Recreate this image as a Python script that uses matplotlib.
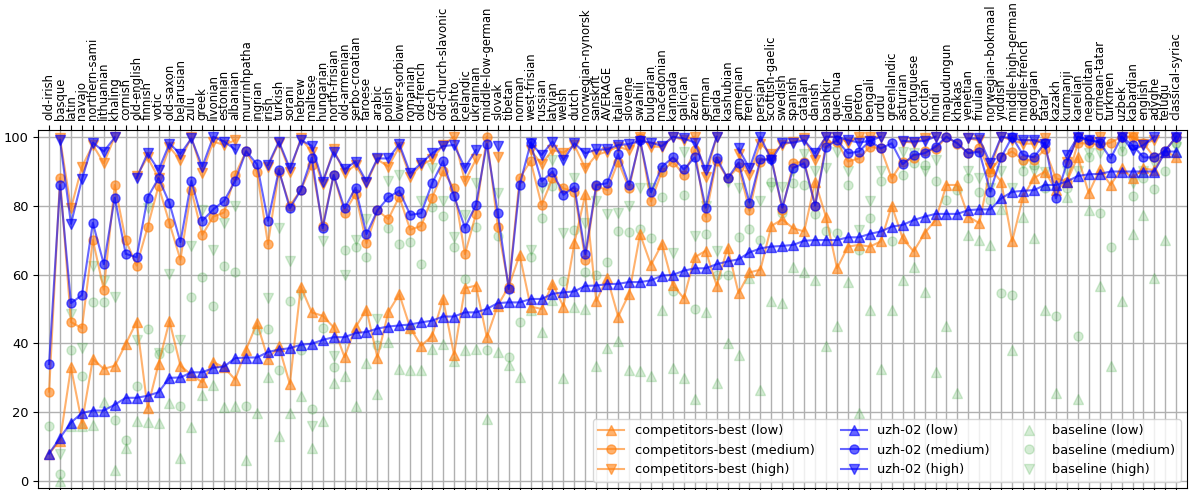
import numpy as np
import matplotlib
matplotlib.use("Agg")
import matplotlib.pyplot as plt

nan = np.nan

languages = [
    "old-irish", "basque", "latin", "navajo", "northern-sami", "lithuanian", "khaling", "cornish",
    "old-english", "finnish", "votic", "old-saxon", "belarusian", "zulu", "greek", "livonian",
    "estonian", "albanian", "murrinhpatha", "ingrian", "irish", "turkish", "sorani", "hebrew",
    "maltese", "hungarian", "north-frisian", "old-armenian", "serbo-croatian", "faroese", "arabic",
    "polish", "lower-sorbian", "romanian", "old-french", "czech", "old-church-slavonic", "pashto",
    "icelandic", "ukrainian", "middle-low-german", "slovak", "tibetan", "norman", "west-frisian",
    "russian", "latvian", "welsh", "dutch", "norwegian-nynorsk", "sanskrit", "AVERAGE", "italian",
    "slovene", "swahili", "bulgarian", "macedonian", "kannada", "galician", "azeri", "german",
    "haida", "kashubian", "armenian", "french", "persian", "scottish-gaelic", "swedish", "spanish",
    "catalan", "danish", "bashkir", "quechua", "ladin", "breton", "bengali", "urdu", "greenlandic",
    "asturian", "portuguese", "occitan", "hindi", "mapudungun", "khakas", "venetian", "friulian",
    "norwegian-bokmaal", "yiddish", "middle-high-german", "middle-french", "georgian", "tatar",
    "kazakh", "kurmanji", "karelian", "neapolitan", "crimean-tatar", "turkmen", "uzbek",
    "kabardian", "english", "adyghe", "telugu", "classical-syriac",
]

uzh_low = [
    8, 12.6, 17, 19.8, 20.5, 20.5, 22.2, 24.2, 24.2, 24.8, 25.8, 30, 30.1, 31.6, 31.6, 32.9,
    33.3, 35.7, 35.9, 35.9, 37.5, 38.2, 38.6, 39.6, 39.9, 41, 41.8, 41.8, 43, 43.3, 44.3,
    44.9, 45.2, 45.5, 46.1, 46.6, 47.8, 47.8, 49, 49, 50, 51.7, 51.9, 51.9, 52.9,
    52.9, 54.4, 54.8, 55.1, 56.7, 56.8, 57.2, 57.3,
    57.8, 57.8, 58.3, 59.7, 59.9, 61.1, 61.8, 61.8,
    63, 63.8, 64.4, 66.4, 67.6, 68.1, 68.3, 68.6,
    69.8, 70, 70, 70, 70.8, 70.8, 71.8, 72.5, 73.9,
    74.4, 75.8, 76.8, 77.6, 77.6, 77.6, 78.7, 78.9,
    78.9, 82.1, 84, 84.3, 84.5, 86, 86, 87, 88.6, 89.1, 89.2, 89.9, 89.9,
    89.9, 89.9, 89.9, 95.7, 95.7,
]
comp_low = [
    8, 11.8, 33, 17, 35.5, 32.6, 33.5, 39.8, 46.3, 21.3, 34, 46.5, 33.5, 30.9, 28.7, 34.6,
    33, 29.5, 38.2, 45.9, 35.5, 39.1, 28.2, 56.5, 49, 48, 44.7, 36, 44.7, 49.8, 35.9,
    49.1, 54.3, 44.5, 39.3, 42.2, 52.9, 36.7, 56, 56.8, 41.8, 51, 56.5, 65.7, 50.7,
    50, 57.3, 50.7, 69.1, 83.4, 52.2, 59.1, 47.8,
    54.4, 71.7, 62.8, 68.9, 57, 53.1, 65, 66.9,
    56.8, 67.8, 54.6, 60.6, 61.4, 74.1, 76, 73.4,
    72.5, 87, 76.6, 61.8, 68.1, 68.6, 68.1, 69.6, 80,
    70.5, 66.7, 72, 75.8, 86, 86, 76.8, 74.9,
    90.8, 87, 69.6, 82.6, 88, 89.9, 84.5, 87, 94.2, 83.6, 90.5, 86, 90.8,
    88, 90.8, 90.3, 95.7, 94.2,
]
uzh_med = [
    34, 86, 51.7, 54, 75, 63, 82.3, 66, 65, 82.3, 88, 80.7, 69.4, 87.2, 75.6, 78.9,
    81.4, 87.1, 95.8, 92, 75.6, 90.3, 79.2, 84.5, 93.9, 73.4, 88.9, 79.2, 85.2, 71.7, 78.6,
    82.4, 84.3, 77.3, 77.8, 86.5, 92.9, 82.8, 73.6, 80.2, 97.9, 77.8, 55.8, 86, 98.1,
    87, 89.9, 83.1, 85.5, 65.9, 86, 86.5, 95,
    86, 99, 83.9, 91.3, 94, 90.5, 94, 79.4,
    93.9, 87.9, 92.5, 80.9, 93.4, 93.4, 79.4, 91,
    92.3, 80, 97.1, 99, 95.2, 95.7, 98.8, 96.6, 98.1,
    92, 94.7, 95.2, 97.1, 100, 98.1, 95.2, 95.7,
    84.1, 94, 100, 94.7, 94, 98.3, 82.1, 92.3, 100, 99, 98.3, 93.7, 100,
    97.6, 94, 94, 96, 100,
]
comp_med = [
    26, 88, 46.2, 44.4, 70, 55.6, 86, 70, 62.6, 73.7, 85.7, 74.9, 64.3, 84.5, 71.5, 76.8,
    78, 88.9, 95.8, 89.9, 68.8, 89.9, 80, 84.5, 91.8, 74.1, 88.9, 78, 83.4, 69.1, 78.6,
    76.1, 82.6, 73, 74.1, 82.3, 90, 85, 65.9, 77.5, 100, 73.9, 56.5, 87.9, 93,
    80.2, 87.9, 85, 84.1, 64.3, 85.7, 84.5, 92.8,
    85, 99.5, 81.2, 89.9, 92.8, 88.9, 96.1, 76.8,
    93, 87.9, 91.3, 78.6, 92.8, 94, 78.7, 92.3,
    92.8, 80, 98.1, 98.6, 92.8, 93.7, 97.1, 96.6, 87.9,
    92.8, 93.7, 95.8, 96.3, 100, 97.9, 95.2, 96.6,
    89.9, 94.2, 95.7, 93.2, 93.2, 96.3, 87.9, 87, 98.1, 98.1, 97.6, 98.3, 100,
    100, 98.1, 94, 96, 100,
]
uzh_high = [
    nan, 99, 74.7, 87.6, 98.3, 95.7, 99.8, nan, 88, 95.2, 90.3, 98, 95, 99.5, 91.3, 100,
    98.6, 96.3, nan, nan, 91.8, 98.6, 90.8, 99, 97.4, 87, 95.5, 90.5, 92.8, 87, 93.7,
    93.7, 97.9, 89.4, 92.3, 95.2, 97.3, 97.6, 91, 96.1, nan, 97.3, nan, nan, 98.3,
    94.7, 98.6, 93.2, 98.1, 95.2, 96.3, 96.3, 97.6,
    97.9, 98.8, 98.3, 97.3, 100, 99.5, 98.3, 90.3,
    100, nan, 96.6, 90.8, 100, 93.2, 98.3, 98.3,
    99, 95.2, 100, 100, 99, 98.3, 98.8, 100, nan,
    98.8, 98.6, 98.8, 100, nan, nan, 99.5, 99.5,
    92.3, 100, 99.5, 99, 99, 98, nan, 94.7, 100, 99, 98.6, nan, 100,
    96.1, 97.6, 100, nan, 100,
]
comp_high = [
    nan, 99.5, 79.2, 91.3, 97.6, 92.3, 100, nan, 88.6, 94, 88, 97, 93.2, 99.8, 89.6, 98.6,
    97.6, 99, nan, nan, 91.3, 98.3, 89.9, 99.5, 95.7, 86.3, 96.3, 89.4, 91.8, 86.5, 93.4,
    91.3, 97.1, 88.4, 91.8, 93.4, 97.6, 100, 87.1, 93.4, nan, 94.2, nan, nan, 96.1,
    92.1, 96.1, 95.4, 97.6, 90.8, 94.7, 95.7, 97.1,
    96.1, 100, 97.1, 97.1, 100, 99, 100, 88.4,
    100, nan, 95, 88.9, 98, 95, 97.6, 98.6,
    99.5, 93.2, 100, 100, 98.3, 100, 100, 100, nan,
    98.6, 98.3, 99.5, 100, nan, nan, 99.5, 99,
    90.8, 100, 99, 98, 98, 99.5, nan, 92.8, 99.5, 98.6, 100, nan, 100,
    100, 98, 99, nan, 99.5,
]
base_low = [
    nan, 0, 16, 16, 16.4, 22.9, 3.1, 9.7, 17.4, 17.1, 17, 22.7, 6.8, 15.7, 25.1, 27.8,
    21.5, 21.7, 6.1, 19.8, 30.1, 13, 19.8, 24.6, 9.7, 17.4, 28.5, 30.4, 21.9, 34.3, 25.4,
    40.3, 32.6, 32.4, 32.4, 38.4, 39.9, 34.8, 38.2, 38.4, 18, 37.5, 33.8, 30.1, 49.6,
    43.3, 52.7, 30, 50.7, 50, 33.5, 38.6, 40.6,
    32.4, 31.9, 30.6, 49.6, 32.9, 30, 23.9, 49,
    28.5, 40, 36.7, 58.9, 26.4, 52.2, 51.7, 62.3,
    60.6, 58.5, 39.1, 45, 57.7, 19.8, 49.6, 32.6, 49.8,
    58.3, 62.3, 55, 31.6, 45, 25.6, 71.5, 70,
    68.6, 79, 38.2, 76.8, 70.5, 49.8, 25.6, 82.6, 23.9, 78.7, 56.8, 33.5, 52.2,
    71.7, 77.3, 58.9, 70, 95.7,
]
base_med = [
    16, 2, 38, 30.4, 52, 51.9, 17.9, 12, 27.7, 44.2, 37, 38.8, 21.7, 53.6, 59.2, 51,
    62.6, 60.7, 21.9, 44, 44.2, 32.2, 52.2, 38.2, 21, 44.4, 33.1, 67.1, 68.1, 65.2, 39.6,
    73.4, 68.9, 69.3, 63, 79.5, 77, 67.9, 58.6, 73.9, 38.2, 71.2, 36, 46.1, 65,
    76.3, 85.7, 58, 72.9, 60.6, 59.9, 63.5, 72.5,
    72.2, 73.1, 70.5, 82.6, 55.1, 83.1, 50, 71.7,
    60, 59.9, 71, 73.1, 70, 87, 78, 86.5,
    86, 77.5, 72.5, 72, 86, 67.1, 76.3, 87.1, 69.8,
    88.9, 92.3, 91.8, 87.2, 81.6, 84.5, 88, 84,
    81.6, 54.6, 54.1, 90.1, 91.8, 85, 48, 85, 42, 94.2, 78, 68.1, 95.9,
    82.8, 88, 84.7, 90, 98.3,
]
base_high = [
    nan, 8, 48.5, 38.8, 62.6, 58, 53.6, nan, 41, 79.2, 37.2, 60.2, 41, 68.3, 78.7, 67.1,
    75, 80, nan, nan, 53.1, 73.4, 63.8, 54.1, 16.1, 69.6, 36.2, 60, 70, 76, 47,
    87.1, 88.9, 44, 81.2, 90.8, 81.2, 71, 77.3, 86.5, nan, 83.6, nan, nan, 67.1,
    85, 93.2, 72, 87.9, 74.9, 81.2, 77.5, 77.8,
    80, 85, 85, 90, 66.2, 95.7, 71.2, 80,
    66.7, 87, 85, 80, 81.2, 85.5, 85.5, 90,
    95, 90, 90.8, 95.5, 90, 72.9, 81.2, 90, nan,
    95.7, 95.2, 90, 93.2, nan, nan, 90, 88,
    85, 90, 85, 92, 90, 89.9, nan, 90, 90, 95.2, 95.2, nan, 97,
    86.5, 90, 92.3, nan, 97.1,
]

x = np.arange(len(languages))

fig, ax = plt.subplots(figsize=(11.92, 4.9), dpi=100)

orange = "#ff7f0e"
blue = "#0000ff"
green = "#2ca02c"
line_kw = dict(linewidth=1.5, markersize=6.5, alpha=0.6)

ax.plot(x, comp_low, marker="^", color=orange, label="competitors-best (low)", **line_kw)
ax.plot(x, comp_med, marker="o", color=orange, label="competitors-best (medium)", **line_kw)
ax.plot(x, comp_high, marker="v", color=orange, label="competitors-best (high)", **line_kw)
ax.plot(x, uzh_low, marker="^", color=blue, label="uzh-02 (low)", **line_kw)
ax.plot(x, uzh_med, marker="o", color=blue, label="uzh-02 (medium)", **line_kw)
ax.plot(x, uzh_high, marker="v", color=blue, label="uzh-02 (high)", **line_kw)
ax.plot(x, base_low, marker="^", linestyle="none", color=green, alpha=0.2, markersize=6.5,
        label="baseline (low)", zorder=1)
ax.plot(x, base_med, marker="o", linestyle="none", color=green, alpha=0.2, markersize=6.5,
        label="baseline (medium)", zorder=1)
ax.plot(x, base_high, marker="v", linestyle="none", color=green, alpha=0.2, markersize=6.5,
        label="baseline (high)", zorder=1)

ax.set_xticks(x)
ax.set_xticklabels(languages, rotation=90, fontsize=8.4)
ax.xaxis.tick_top()
ax.tick_params(axis="x", bottom=True, top=True)
ax.tick_params(axis="y", labelsize=9.4)
ax.set_xlim(-1, len(languages))
ax.set_ylim(-2, 102)
ax.set_yticks([0, 20, 40, 60, 80, 100])
ax.grid(True, color="#b0b0b0", linewidth=1.0)
ax.set_axisbelow(True)

ax.legend(loc="lower right", ncol=3, fontsize=9.4)

fig.subplots_adjust(left=0.032, right=0.996, top=0.735, bottom=0.004)
fig.savefig("out.png", dpi=100)
